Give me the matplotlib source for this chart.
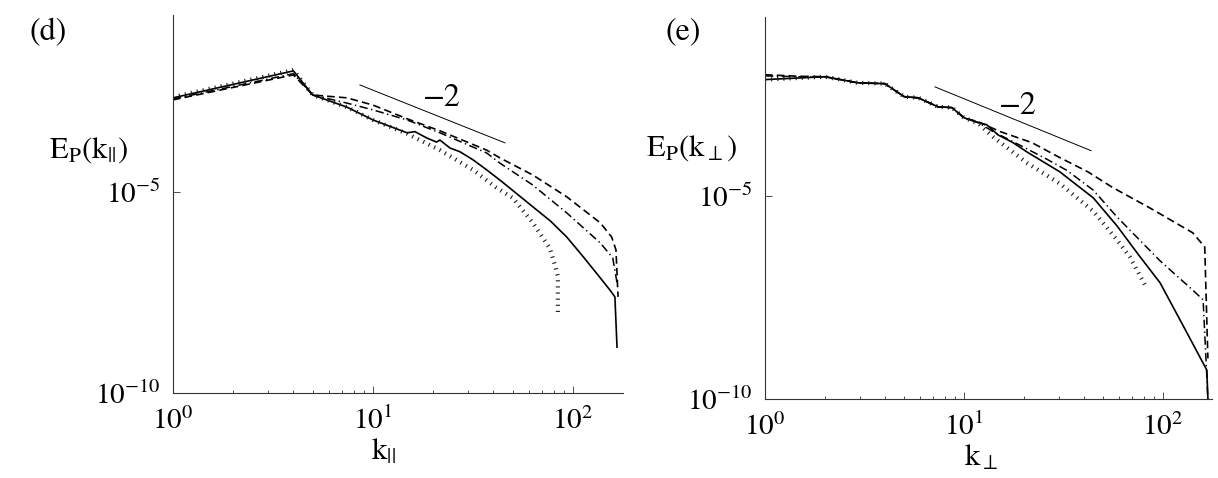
import numpy as np
import matplotlib
matplotlib.use("Agg")
import matplotlib.pyplot as plt

plt.rcParams['font.family'] = ['STIXGeneral', 'DejaVu Serif']
plt.rcParams['mathtext.fontset'] = 'stix'
plt.rcParams['lines.scale_dashes'] = False

# ---- panel (d): E_P(k_par), values read as log10(E) ----
k_d_solid = [1, 4, 5, 7.4, 10, 14.8, 16.2, 18.6, 20.8, 21.6, 24.3, 27.2, 31.6, 37, 44, 63, 77, 93, 112, 136, 153, 162, 166]
le_d_solid = [-2.66, -1.99, -2.59, -2.89, -3.21, -3.53, -3.50, -3.66, -3.76, -3.71, -3.91, -4.00, -4.20, -4.45, -4.74, -5.37, -5.72, -6.12, -6.60, -7.12, -7.44, -7.61, -8.86]

k_d_dash = [1, 4, 5, 7.4, 10, 14.8, 21.6, 37, 43, 63, 93, 137, 156, 164, 168]
le_d_dash = [-2.71, -2.09, -2.59, -2.66, -2.84, -3.18, -3.48, -3.96, -4.15, -4.58, -5.12, -5.77, -6.12, -6.44, -7.61]

k_d_dashdot = [1, 4, 5, 7.4, 10, 14.8, 21.6, 37, 43, 63, 93, 137, 158, 166]
le_d_dashdot = [-2.69, -2.06, -2.59, -2.79, -2.96, -3.21, -3.53, -4.03, -4.28, -4.83, -5.52, -6.27, -6.64, -7.26]

k_d_dot = [1, 4, 5, 7.4, 10, 14.8, 21.6, 31.6, 41, 50, 63, 76.6, 81, 84, 84]
le_d_dot = [-2.64, -1.97, -2.59, -2.89, -3.21, -3.55, -3.96, -4.45, -4.88, -5.15, -5.77, -6.40, -6.80, -7.10, -8.06]

slope_d_k = [8.6, 45.7]
slope_d_le = [-2.34, -3.78]

# ---- panel (e): E_P(k_perp) ----
k_e_solid = [1, 2, 2.93, 4, 5, 5.9, 7.4, 8.7, 10, 11.8, 13, 14.8, 17.6, 20.7, 30.3, 44.6, 58.7, 75, 96.6, 126, 166, 168]
le_e_solid = [-2.14, -2.07, -2.22, -2.24, -2.56, -2.59, -2.81, -2.83, -3.08, -3.20, -3.25, -3.50, -3.69, -3.92, -4.41, -5.05, -5.74, -6.44, -7.14, -8.19, -9.29, -10.0]

k_e_dash = [1, 1.5, 2, 2.93, 4, 5, 5.9, 7.4, 8.7, 10, 11.8, 15.2, 21.9, 30.3, 41.9, 56, 86, 141, 162, 168]
le_e_dash = [-2.02, -2.06, -2.07, -2.22, -2.24, -2.56, -2.59, -2.81, -2.83, -3.08, -3.18, -3.42, -3.69, -4.06, -4.41, -4.80, -5.30, -5.91, -6.26, -9.0]

k_e_dashdot = [1, 1.5, 2, 2.93, 4, 5, 5.9, 7.4, 8.7, 10, 11.8, 14, 18.5, 26.1, 33, 44.6, 58.7, 96.6, 141, 159, 168]
le_e_dashdot = [-2.05, -2.07, -2.07, -2.22, -2.24, -2.56, -2.59, -2.81, -2.83, -3.08, -3.20, -3.42, -3.72, -4.10, -4.38, -4.86, -5.52, -6.60, -7.32, -7.56, -10.0]

k_e_dot = [1, 2, 2.93, 4, 5, 5.9, 7.4, 8.7, 10, 11.8, 14, 20.7, 30.3, 44.6, 58.6, 68, 83]
le_e_dot = [-2.14, -2.07, -2.22, -2.24, -2.56, -2.59, -2.81, -2.83, -3.08, -3.22, -3.55, -4.19, -4.70, -5.38, -6.08, -6.50, -7.28]

slope_e_k = [7.15, 43.5]
slope_e_le = [-2.32, -3.89]

W, H = 1218, 478
fig = plt.figure(figsize=(W / 100, H / 100), dpi=100)


def px(x, y):
    return x / W, 1 - y / H


def draw_panel(rect, xmax, curves, slope_k, slope_le, slope_txt_pos):
    ax = fig.add_axes(rect)
    (ks, ls), (kd, ld), (kdd, ldd), (kt, lt) = curves
    p10 = lambda a: 10.0 ** np.asarray(a)
    ax.plot(ks, p10(ls), color='black', lw=1.2)
    ax.plot(kd, p10(ld), color='black', lw=1.2, dashes=(5.5, 3))
    ax.plot(kdd, p10(ldd), color='black', lw=1.1, dashes=(6, 2.5, 1, 2.5))
    ax.plot(kt, p10(lt), color='0.1', lw=3.0, dashes=(0.8, 3.6),
            dash_capstyle='butt')
    ax.plot(slope_k, p10(slope_le), color='black', lw=0.7)
    ax.text(slope_txt_pos[0], slope_txt_pos[1], '\u22122', fontsize=23,
            ha='center', va='center')
    ax.set_xscale('log')
    ax.set_yscale('log')
    ax.set_xlim(1, xmax)
    ax.set_ylim(1e-10, 10 ** -0.6)
    ax.set_yticks([1e-10, 1e-5])
    ax.yaxis.set_minor_locator(matplotlib.ticker.NullLocator())
    ax.spines['top'].set_visible(False)
    ax.spines['right'].set_visible(False)
    for s in ['left', 'bottom']:
        ax.spines[s].set_linewidth(0.8)
        ax.spines[s].set_color('0.2')
    ax.tick_params(which='both', direction='in', labelsize=21, width=0.6,
                   colors='0.2', labelcolor='black')
    ax.tick_params(which='major', length=5, pad=10)
    ax.tick_params(which='minor', length=2.5)
    ax.tick_params(axis='y', pad=9)
    return ax


axd = draw_panel([173 / W, 1 - 393 / H, 450 / W, 378 / H], 10 ** 2.25,
                 [(k_d_solid, le_d_solid), (k_d_dash, le_d_dash),
                  (k_d_dashdot, le_d_dashdot), (k_d_dot, le_d_dot)],
                 slope_d_k, slope_d_le, (22, 10 ** -2.66))
axe = draw_panel([765 / W, 1 - 399 / H, 447 / W, 382 / H], 10 ** 2.246,
                 [(k_e_solid, le_e_solid), (k_e_dash, le_e_dash),
                  (k_e_dashdot, le_e_dashdot), (k_e_dot, le_e_dot)],
                 slope_e_k, slope_e_le, (18.7, 10 ** -2.8))

fig.text(*px(48, 33), '(d)', fontsize=23, ha='center', va='center')
fig.text(*px(683, 32), '(e)', fontsize=23, ha='center', va='center')
fig.text(*px(49, 150), r'$\mathrm{E_P(k_{||})}$', fontsize=22, ha='left', va='center')
fig.text(*px(646, 148), r'$\mathrm{E_P(k_{\perp})}$', fontsize=22, ha='left', va='center')
fig.text(*px(383, 452), r'$\mathrm{k_{||}}$', fontsize=22, ha='center', va='center')
fig.text(*px(981, 458), r'$\mathrm{k_{\perp}}$', fontsize=22, ha='center', va='center')

fig.savefig('out.png', dpi=100)
